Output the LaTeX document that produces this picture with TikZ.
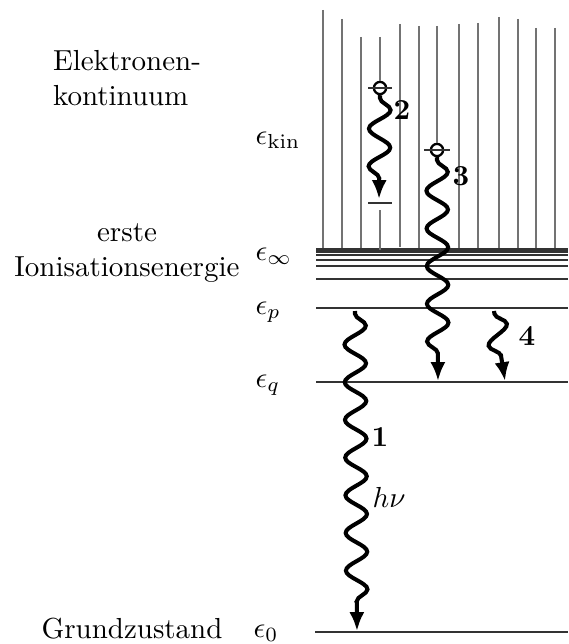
\documentclass[tikz,border=0pt]{standalone}
\usetikzlibrary{arrows.meta,decorations.pathmorphing}

\tikzset{
  level/.style={draw=black!80, line width=0.55pt},
  cont/.style={draw=black!55, line width=0.4pt},
  photon/.style={line width=1.4pt, -{Latex[length=6.5pt,width=5.2pt]}, decorate,
    decoration={snake, amplitude=3.7pt, segment length=13pt, pre length=1pt, post length=6pt}},
  electron/.style={circle, draw, line width=0.8pt, minimum size=4.2pt, inner sep=0pt},
  num/.style={font=\bfseries, inner sep=1pt},
  elabel/.style={anchor=west, inner sep=0pt},
}

\begin{document}
\begin{tikzpicture}[x=0.345pt,y=-0.345pt]

\useasboundingbox (0,0) rectangle (568,644);
%\draw [step=50, dotted] (0,0) grid (568,644);

\draw [cont] (323,10) -- (323,250);
\draw [cont] (342,19) -- (342,250);
\draw [cont] (361,37) -- (361,250);
\draw [cont] (400,24) -- (400,247);
\draw [cont] (419,26) -- (419,250);
\draw [cont] (459,24) -- (459,250);
\draw [cont] (478,23) -- (478,250);
\draw [cont] (499,17) -- (499,250);
\draw [cont] (518,19) -- (518,250);
\draw [cont] (536,28) -- (536,250);
\draw [cont] (555,28) -- (555,250);

\draw [level, line width=0.9pt] (316,249.5) -- (568,249.5);
\draw [level] (316,252) -- (568,252);
\draw [level] (316,255) -- (568,255);
\draw [level] (316,260) -- (568,260);
\draw [level] (316,266) -- (568,266);
\draw [level] (316,279) -- (568,279);
\draw [level] (316,308) -- (568,308);
\draw [level] (316,382) -- (568,382);
\draw [level, line width=0.7pt] (315,632) -- (568,632);

\node [elabel] (ekin) at (255,140) {$\epsilon_{\mathrm{kin}}$};
\node [elabel] (einf) at (255,256) {$\epsilon_\infty$};
\node [elabel] (ep) at (255,312) {$\epsilon_p$};
\node [elabel] (eq) at (255,385) {$\epsilon_q$};
\node [elabel] (e0) at (253,633) {$\epsilon_0$};

\node [align=left] (kont) at (127,78) {Elektronen-\\kontinuum};
\node [align=center] (ion) at (127,253) {erste\\Ionisationsenergie};
\node [anchor=base] (grund) at (132,638) {Grundzustand};

% electron 2
\node [electron] (el2) at (380,88) {};
\coordinate (top2) at (380,37);
\coordinate (t2) at (379,199);
\coordinate (b2) at (380,203);
\coordinate (bot2) at (380,210);
\draw [cont] (top2) -- (el2.north);
\draw [cont] (bot2) -- (380,250);
\draw [level, line width=0.9pt] (el2) +(-12,0) -- +(12,0);
\draw [level, line width=1pt] (b2) +(-12,0) -- +(12,0);
\draw [photon] (el2.south) -- (t2);
\node [num] (n2) at (402,110) {2};

% electron 3
\node [electron] (el3) at (437,150) {};
\coordinate (top3) at (437,26);
\coordinate (t3) at (438,381);
\draw [cont] (top3) -- (el3.north);
\draw [level, line width=0.9pt] (el3) +(-13,0) -- +(13,0);
\draw [photon] (el3.south) -- (t3);
\node [num] (n3) at (461,176) {3};

% transitions 1 and 4
\coordinate (s1) at (355,311);
\coordinate (t1) at (357,631);
\draw [photon] (s1) -- (t1);
\node [num] (n1) at (380,437) {1};
\node (hnu) at (389,497) {$h\nu$};

\coordinate (s4) at (494,311);
\coordinate (t4) at (505,381);
\draw [photon] (s4) -- (t4);
\node [num] (n4) at (527,336) {4};

\end{tikzpicture}
\end{document}
